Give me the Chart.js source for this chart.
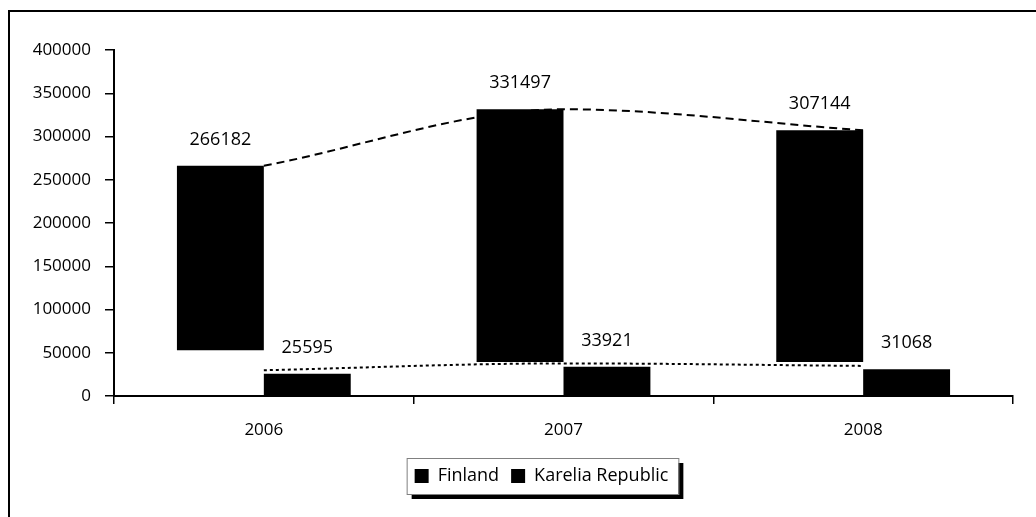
<!DOCTYPE html>
<html>
<head>
<meta charset="utf-8">
<script src="https://cdn.jsdelivr.net/npm/chart.js@4/dist/chart.umd.min.js"></script>
<style>
  body { margin: 0; background: #fff; }
  #wrap { width: 1036px; height: 517px; }
</style>
</head>
<body>
<div id="wrap"><canvas id="visitorsChart" width="1036" height="517"></canvas></div>
<script>
// values
const years = ['2006', '2007', '2008'];
const finlandValues = [266182, 331497, 307144];
const finlandBase = [53000, 39400, 39400];      // Finland bars float, bottom edge as drawn
const kareliaValues = [25595, 33921, 31068];
const finlandTrend = [266182, 331497, 307144];   // dashed curve
const kareliaTrend = [29800, 37700, 34800];      // dotted curve
const yMax = 400000;
const yStep = 50000;

Chart.defaults.font.family = "'Open Sans', 'Noto Sans', sans-serif";
Chart.defaults.color = '#000';

const LEGEND_SHIFT = 35;

// outer frame + legend box with drop shadow
const frameAndLegendBox = {
    id: 'frameAndLegendBox',
    afterLayout(chart) {
        // legend in the reference sits a bit right of the canvas centre
        const lg = chart.legend;
        if (!lg) return;
        lg.left += LEGEND_SHIFT;
        lg.right += LEGEND_SHIFT;
        lg.legendHitBoxes.forEach(b => { b.left += LEGEND_SHIFT; });
    },
    beforeDraw(chart) {
        const ctx = chart.ctx;
        ctx.save();
        ctx.strokeStyle = '#000';
        ctx.lineWidth = 2;
        ctx.beginPath();
        ctx.moveTo(9, chart.height);
        ctx.lineTo(9, 11);
        ctx.lineTo(chart.width, 11);
        ctx.stroke();

        const boxes = chart.legend && chart.legend.legendHitBoxes;
        if (boxes && boxes.length) {
            const left = Math.min(...boxes.map(b => b.left)) - 8;
            const right = Math.max(...boxes.map(b => b.left + b.width)) + 10;
            const top = Math.min(...boxes.map(b => b.top)) - 9;
            const bottom = Math.max(...boxes.map(b => b.top + b.height)) + 9;
            ctx.fillStyle = '#000';
            ctx.fillRect(left + 5, top + 5, right - left, bottom - top);
            ctx.fillStyle = '#fff';
            ctx.fillRect(left, top, right - left, bottom - top);
            ctx.lineWidth = 1;
            ctx.strokeStyle = '#808080';
            ctx.strokeRect(left + 0.5, top + 0.5, right - left, bottom - top);
        }
        ctx.restore();
    }
};

// numbers above the bars
const valueLabels = {
    id: 'valueLabels',
    afterDatasetsDraw(chart) {
        const ctx = chart.ctx;
        const y = chart.scales.y;
        ctx.save();
        ctx.font = "18px 'Open Sans'";
        ctx.fillStyle = '#000';
        ctx.textAlign = 'center';
        ctx.textBaseline = 'middle';
        [[0, finlandValues], [1, kareliaValues]].forEach(([i, vals]) => {
            chart.getDatasetMeta(i).data.forEach((bar, j) => {
                ctx.fillText(String(vals[j]), bar.x, y.getPixelForValue(vals[j]) - 26);
            });
        });
        ctx.restore();
    }
};

new Chart(document.getElementById('visitorsChart'), {
    type: 'bar',
    data: {
        labels: years,
        datasets: [
            {
                label: 'Finland',
                data: finlandValues.map((v, i) => [finlandBase[i], v]),
                backgroundColor: '#000',
                borderWidth: 0,
                categoryPercentage: 0.58,
                barPercentage: 1,
                order: 1
            },
            {
                label: 'Karelia Republic',
                data: kareliaValues,
                backgroundColor: '#000',
                borderWidth: 0,
                categoryPercentage: 0.58,
                barPercentage: 1,
                order: 1
            },
            {
                type: 'line',
                label: 'Finland trend',
                data: finlandTrend,
                borderColor: '#000',
                borderWidth: 2,
                borderDash: [8, 5],
                pointRadius: 0,
                cubicInterpolationMode: 'monotone',
                fill: false,
                order: 2
            },
            {
                type: 'line',
                label: 'Karelia trend',
                data: kareliaTrend,
                borderColor: '#000',
                borderWidth: 2,
                borderDash: [3, 3],
                pointRadius: 0,
                cubicInterpolationMode: 'monotone',
                fill: false,
                order: 2
            }
        ]
    },
    options: {
        responsive: false,
        animation: false,
        layout: { padding: { left: 0, top: 50, right: 23, bottom: 22 } },
        scales: {
            x: {
                offset: true,
                grid: { offset: true, drawOnChartArea: false, color: '#000', lineWidth: 1.5, tickLength: 8 },
                border: { color: '#000', width: 2 },
                ticks: { color: '#000', font: { size: 17 }, padding: 16 },
                afterFit(scale) { scale.height = 59; }
            },
            y: {
                min: 0,
                max: yMax,
                grid: { drawOnChartArea: false, color: '#000', lineWidth: 1.5, tickLength: 9 },
                border: { color: '#000', width: 2 },
                ticks: { stepSize: yStep, color: '#000', font: { size: 17 }, padding: 14, callback: v => v },
                afterFit(scale) { scale.width = 114; }
            }
        },
        plugins: {
            legend: {
                position: 'bottom',
                labels: {
                    filter: item => item.datasetIndex < 2,
                    boxWidth: 14,
                    boxHeight: 14,
                    padding: 12,
                    color: '#000',
                    font: { size: 18 }
                }
            },
            tooltip: { enabled: false }
        }
    },
    plugins: [frameAndLegendBox, valueLabels]
});
</script>
</body>
</html>
